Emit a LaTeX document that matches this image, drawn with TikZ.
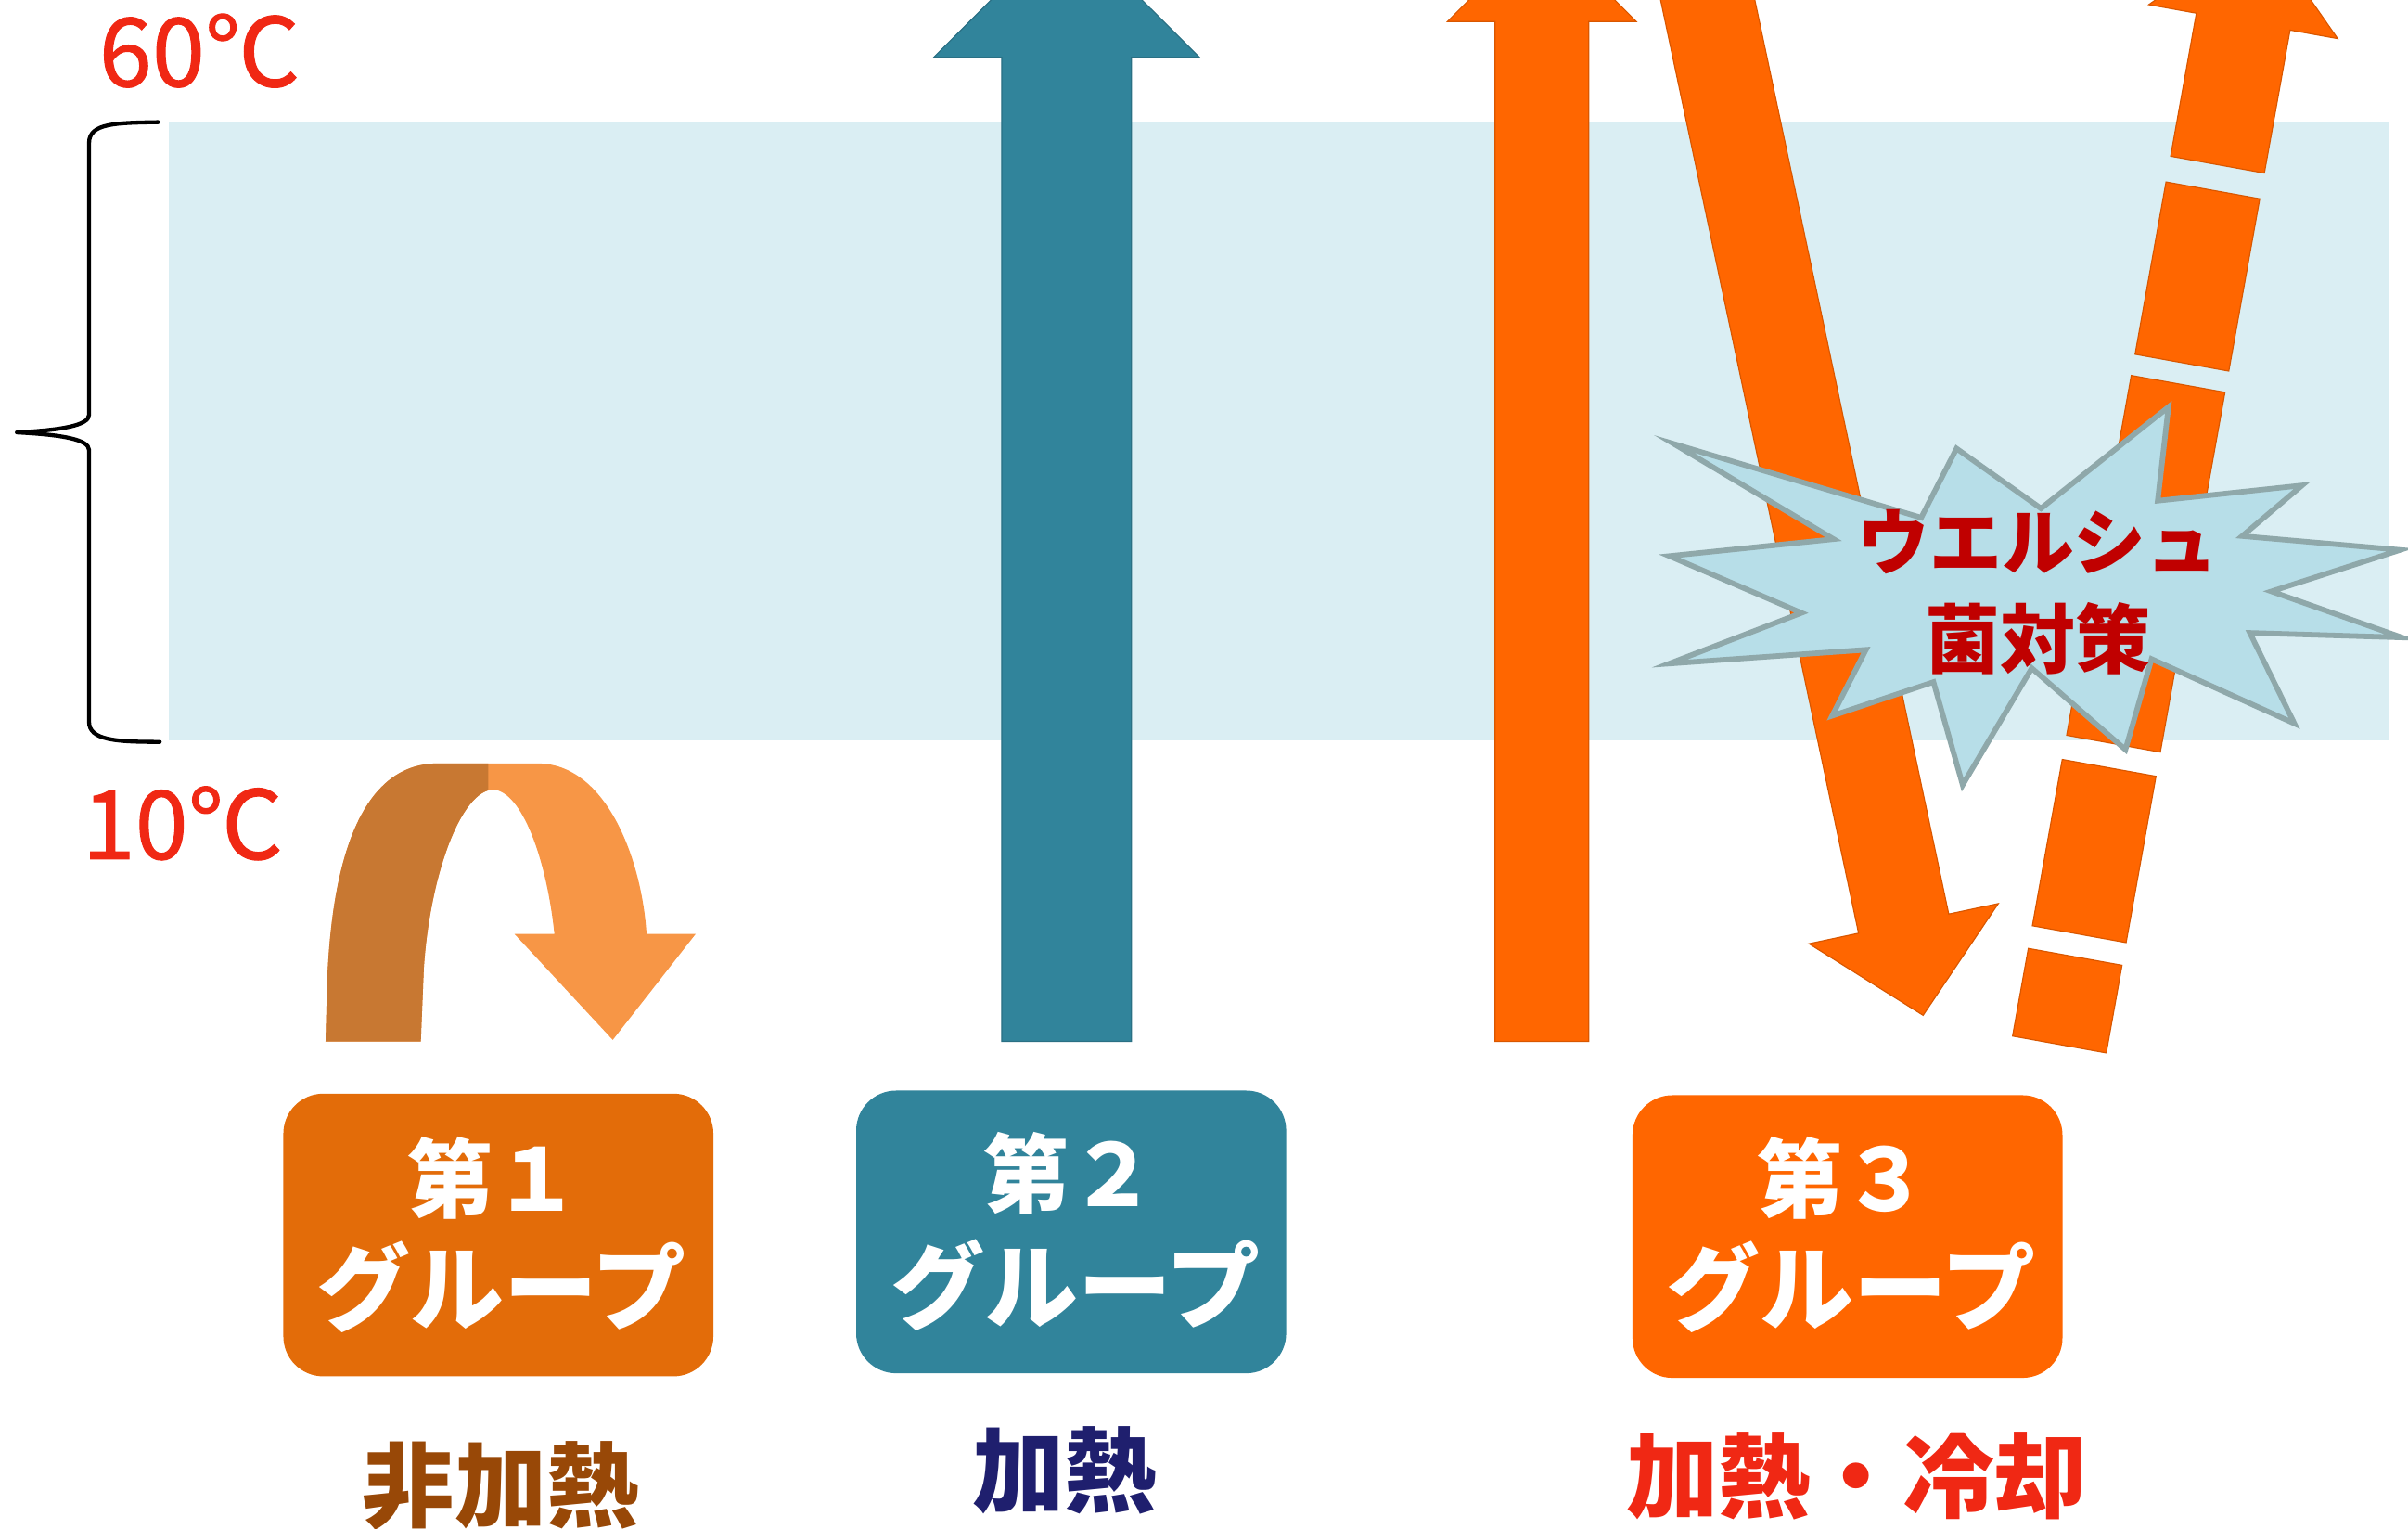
\documentclass[tikz,border=0pt]{standalone}
\usepackage{fontspec}
\newfontfamily\jp{Noto Sans CJK JP}
\newfontfamily\jpt[FakeBold=1]{Noto Sans CJK JP}
\usetikzlibrary{calc}
\definecolor{bandcol}{HTML}{DAEEF3}
\definecolor{tealcol}{HTML}{31849B}
\definecolor{orcol}{HTML}{FF6600}
\definecolor{box1col}{HTML}{E36C09}
\definecolor{ulight}{HTML}{F79646}
\definecolor{udark}{HTML}{C87832}
\definecolor{tempred}{HTML}{F02814}
\definecolor{brownlbl}{HTML}{984807}
\definecolor{navylbl}{HTML}{1F1F6E}
\definecolor{starfill}{HTML}{B7DEE8}
\definecolor{starline}{HTML}{8FA8AA}
\definecolor{darkred}{HTML}{C00000}
\newcommand\myfs[1]{\fontsize{#1}{#1}\selectfont}
\tikzset{
  txt/.style={inner sep=0pt, font=\jp},
  grpbox/.style={rounded corners=26pt, minimum width=280pt, minimum height=184pt, inner sep=0pt},
  boxtxt/.style={txt, text=white, font=\jp\bfseries},
  bigarrow/.style={line width=0.7pt, line join=miter},
}
\begin{document}
\begin{tikzpicture}[x=1pt,y=-1pt]
\useasboundingbox (0,0) rectangle (1568,995);
\clip (0,0) rectangle (1568,995);

% temperature band
\fill[bandcol] (110,80) rectangle (1555,482);

% brace
\draw[line width=2.6pt, line cap=round, line join=round]
  (103,79.5) .. controls (76,80) and (58,80) .. (58,93) -- (58,270)
  .. controls (58,277) and (40,280) .. (11,281.5)
  .. controls (40,283) and (58,286) .. (58,293) -- (58,470)
  .. controls (58,482) and (76,483) .. (104,483);

% temperature labels
\node[txt, text=tempred, font=\jpt] (t60) at (130,33) {\myfs{62}60℃};
\node[txt, text=tempred, font=\jpt] (t10) at (119,536) {\myfs{62}10℃};

% group 1: U-turn arrow
\path[fill=ulight]
  (212,678) -- (213,640) .. controls (216,560) and (235,497) .. (285,497) -- (350,497)
  .. controls (395,497) and (418,560) .. (421,608) -- (453,608) -- (399,677) -- (335,608) -- (361,608)
  .. controls (356,560) and (340,515) .. (321,514)
  .. controls (300,515) and (280,570) .. (276,630) -- (274,678) -- cycle;
\begin{scope}
  \clip (150,480) rectangle (318,700);
  \path[fill=udark]
  (212,678) -- (213,640) .. controls (216,560) and (235,497) .. (285,497) -- (350,497)
  .. controls (395,497) and (418,560) .. (421,608) -- (453,608) -- (399,677) -- (335,608) -- (361,608)
  .. controls (356,560) and (340,515) .. (321,514)
  .. controls (300,515) and (280,570) .. (276,630) -- (274,678) -- cycle;
\end{scope}

% group 2: teal up arrow
\path[bigarrow, fill=tealcol, draw=tealcol!85!black]
  (652.3,678) -- (652.3,37.3) -- (608,37.3) -- (694.5,-49) -- (781,37.3) -- (736.7,37.3) -- (736.7,678) -- cycle;

% group 3: orange up arrow
\path[bigarrow, fill=orcol, draw=orcol!85!black]
  (973.5,678) -- (973.5,14) -- (942.5,14) -- (1004,-47.5) -- (1065.5,14) -- (1034.5,14) -- (1034.5,678) -- cycle;

% group 3: diagonal down arrow
\begin{scope}[shift={(1103.5,-40)}, rotate=-78.02]
  \path[bigarrow, fill=orcol, draw=orcol!85!black]
    (0,-30) -- (655.6,-30) -- (655.6,-63) -- (716.6,0) -- (655.6,63) -- (655.6,30) -- (0,30) -- cycle;
\end{scope}

% group 3: dashed up arrow
\begin{scope}[shift={(1341,680)}, rotate=79.81]
  \path[bigarrow, fill=orcol, draw=orcol!85!black] (0,-31) rectangle (58,31);
  \path[bigarrow, fill=orcol, draw=orcol!85!black] (73,-31) rectangle (183,31);
  \path[bigarrow, fill=orcol, draw=orcol!85!black] (199,-31) rectangle (437,31);
  \path[bigarrow, fill=orcol, draw=orcol!85!black] (451,-31) rectangle (565,31);
  \path[bigarrow, fill=orcol, draw=orcol!85!black]
    (582,-31) -- (676.6,-31) -- (676.6,-62.5) -- (739,0) -- (676.6,62.5) -- (676.6,31) -- (582,31) -- cycle;
\end{scope}

% starburst
\draw[fill=starfill, draw=starline, line width=3.5pt, line join=miter]
  (1090,289) -- (1251,337) -- (1274,292) -- (1329,331) -- (1412,265) -- (1405,326)
  -- (1499,316) -- (1460,349) -- (1563,358) -- (1479,385) -- (1564,415) -- (1465,412)
  -- (1494,471) -- (1401,429) -- (1384,488) -- (1323,435) -- (1278,511) -- (1259,444)
  -- (1193,466) -- (1215,423) -- (1087,432) -- (1173,399) -- (1087,362) -- (1194,351) -- cycle;
\node[txt, text=darkred, font=\jp\bfseries] (w1) at (1327,353) {\myfs{47}ウエルシュ};
\node[txt, text=darkred, font=\jp\bfseries] (w2) at (1327,416) {\myfs{49}菌対策};

% group boxes
\node[grpbox, fill=box1col] (g1) at (324.5,804) {};
\node[grpbox, fill=tealcol] (g2) at (697.5,802) {};
\node[grpbox, fill=orcol] (g3) at (1203,805) {};

\node[boxtxt] (g1a) at ($(g1.center)+(-3,-37)$) {\myfs{56}第１};
\node[boxtxt] (g1b) at ($(g1.center)+(2,34)$) {\myfs{61}グループ};
\node[boxtxt] (g2a) at ($(g2.center)+(-1,-38)$) {\myfs{56}第２};
\node[boxtxt] (g2b) at ($(g2.center)+(3,34.5)$) {\myfs{61}グループ};
\node[boxtxt] (g3a) at ($(g3.center)+(-3,-38)$) {\myfs{56}第３};
\node[boxtxt] (g3b) at ($(g3.center)+(2,33)$) {\myfs{61}グループ};

% labels
\node[txt, text=brownlbl, font=\jp\bfseries] (l1) at (326,967) {\myfs{60}非加熱};
\node[txt, text=navylbl, font=\jp\bfseries] (l2) at (693,957) {\myfs{60}加熱};
\node[txt, text=tempred, font=\jp\bfseries] (l3) at (1209,961) {\myfs{60}加熱・冷却};
\end{tikzpicture}
\end{document}
